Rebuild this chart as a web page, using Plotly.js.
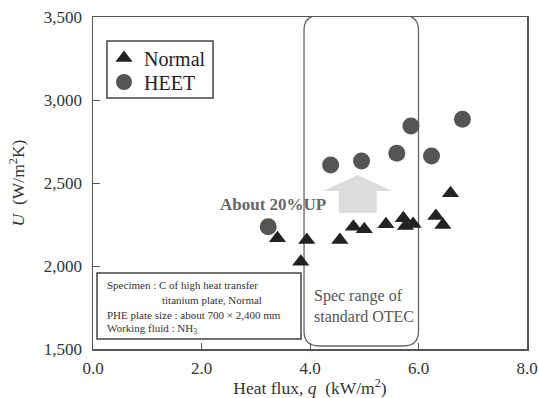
<!DOCTYPE html>
<html>
<head>
<meta charset="utf-8">
<script src="https://cdn.plot.ly/plotly-3.0.1.min.js"></script>
<style>html,body{margin:0;padding:0;background:#fff;}#chart{width:539px;height:398px;}</style>
</head>
<body>
<div id="chart"></div>
<script>
// Normal plate (triangles)
const normalQ = [3.40, 3.83, 3.94, 4.55, 4.80, 5.00, 5.40, 5.72, 5.76, 5.90, 6.32, 6.45, 6.59];
const normalU = [2167, 2026, 2157, 2157, 2237, 2221, 2251, 2287, 2241, 2253, 2301, 2247, 2438];
// HEET plate (circles)
const heetQ = [3.23, 4.38, 4.95, 5.60, 5.86, 6.24, 6.81];
const heetU = [2237, 2608, 2633, 2679, 2843, 2663, 2884];
// spec range of standard OTEC (heat flux)
const specRange = [3.89, 6.0];
const xTicks = [0, 2, 4, 6, 8];
const yTicks = [1500, 2000, 2500, 3000, 3500];

const serif = "Liberation Serif";

const traces = [
  {x: normalQ, y: normalU, type: 'scatter', mode: 'markers', name: 'Normal', legend: 'legend',
   marker: {symbol: 'triangle-up', size: 15, color: '#222'}},
  {x: heetQ, y: heetU, type: 'scatter', mode: 'markers', name: 'HEET', legend: 'legend2',
   marker: {symbol: 'circle', size: 17, color: '#555'}}
];

// rounded rectangle for spec range
const x0 = specRange[0], x1 = specRange[1];
const yTop = 3510, yBot = 1518;
const rx = 0.28, ry = 90;
const rrPath = `M ${x0+rx},${yTop} L ${x1-rx},${yTop} Q ${x1},${yTop} ${x1},${yTop-ry} L ${x1},${yBot+ry} Q ${x1},${yBot} ${x1-rx},${yBot} L ${x0+rx},${yBot} Q ${x0},${yBot} ${x0},${yBot+ry} L ${x0},${yTop-ry} Q ${x0},${yTop} ${x0+rx},${yTop} Z`;

// block arrow
const arrowPath = `M 4.53,2319 L 5.23,2319 L 5.23,2452 L 5.51,2452 L 4.88,2548 L 4.24,2452 L 4.53,2452 Z`;

function px(x){return (x-93)/434;}
function py(y){return (349-y)/332;}

const infoFont = {family: serif, size: 11, color: '#333'};
function info(x, y, t){
  return {x: px(x), y: py(y), xref: 'paper', yref: 'paper', xanchor: 'left', yanchor: 'middle',
          showarrow: false, text: t, font: infoFont};
}
const legFont = {family: serif, size: 20, color: '#222'};

const layout = {
  width: 539, height: 398,
  margin: {l: 93, r: 12, t: 17, b: 49},
  paper_bgcolor: '#fff', plot_bgcolor: '#fff',
  showlegend: true,
  legend: {x: px(104), y: py(58), xanchor: 'left', yanchor: 'middle',
           bgcolor: 'rgba(0,0,0,0)', borderwidth: 0, font: legFont},
  legend2: {x: px(104), y: py(82), xanchor: 'left', yanchor: 'middle',
           bgcolor: 'rgba(0,0,0,0)', borderwidth: 0, font: legFont},
  xaxis: {range: [0, 8], tickvals: xTicks, tickformat: '.1f',
          showgrid: false, zeroline: false, showline: true, linecolor: '#555', linewidth: 1.5,
          mirror: true, ticks: 'inside', ticklen: 6, tickcolor: '#555', ticklabelstandoff: 3,
          tickfont: {family: serif, size: 17, color: '#333'},
          title: {text: 'Heat flux, <i>q</i>  (kW/m<sup>2</sup>)', font: {family: serif, size: 17.5, color: '#333'}, standoff: 12}},
  yaxis: {range: [1500, 3500], tickvals: yTicks, tickformat: ',d',
          showgrid: false, zeroline: false, showline: true, linecolor: '#555', linewidth: 1.5,
          mirror: true, ticks: 'inside', ticklen: 7, tickcolor: '#555', ticklabelstandoff: 6,
          tickfont: {family: serif, size: 17, color: '#333'},
          title: {text: '<i>U</i>  (W/m<sup>2</sup>K)', font: {family: serif, size: 17.5, color: '#333'}, standoff: 14}},
  shapes: [
    {type: 'path', path: rrPath, xref: 'x', yref: 'y', line: {color: '#666', width: 1.3}, fillcolor: 'rgba(0,0,0,0)', layer: 'below'},
    {type: 'path', path: arrowPath, xref: 'x', yref: 'y', line: {width: 0}, fillcolor: '#dcdcdc', layer: 'below'},
    {type: 'rect', xref: 'paper', yref: 'paper', x0: px(97), x1: px(301), y0: py(339), y1: py(273),
     line: {color: '#444', width: 1.5}, fillcolor: '#fff', layer: 'below'},
    {type: 'rect', xref: 'paper', yref: 'paper', x0: px(107), x1: px(213), y0: py(98), y1: py(41),
     line: {color: '#444', width: 1.5}, fillcolor: '#fff', layer: 'below'}
  ],
  annotations: [
    {x: 4.33, y: 2373, xref: 'x', yref: 'y', xanchor: 'right', yanchor: 'middle', showarrow: false,
     text: '<b>About 20%UP</b>', font: {family: serif, size: 17, color: '#666'}},
    {x: px(312), y: py(306), xref: 'paper', yref: 'paper', xanchor: 'left', yanchor: 'middle', showarrow: false, align: 'left',
     text: 'Spec range of<br>standard OTEC', font: {family: serif, size: 16, color: '#555'}},
    info(105, 285, 'Specimen : C of high heat transfer'),
    info(160, 300, 'titanium plate, Normal'),
    info(105, 315, 'PHE plate size : about 700 × 2,400 mm'),
    info(105, 329, 'Working fluid : NH<sub>3</sub>')
  ]
};

Plotly.newPlot('chart', traces, layout, {displayModeBar: false, staticPlot: true});
</script>
</body>
</html>
